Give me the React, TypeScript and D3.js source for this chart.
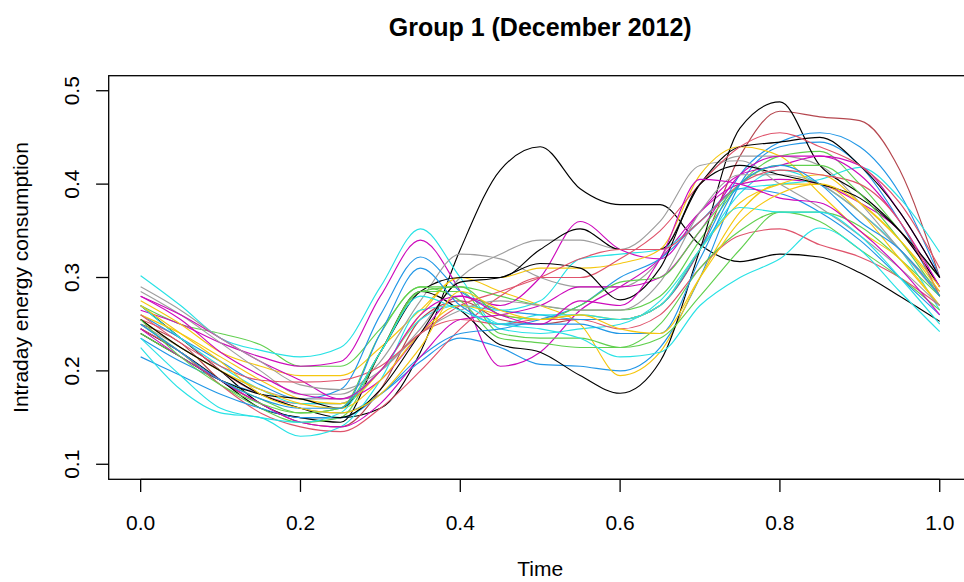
import React from "react";
import * as d3 from "d3";

const timeGrid = [0, 0.05, 0.1, 0.15, 0.2, 0.25, 0.3, 0.35, 0.4, 0.45, 0.5, 0.55, 0.6, 0.65, 0.7, 0.75, 0.8, 0.85, 0.9, 0.95, 1.0];

const day01 = [0.27, 0.235, 0.2, 0.165, 0.15, 0.15, 0.16, 0.22, 0.33, 0.415, 0.44, 0.395, 0.378, 0.378, 0.335, 0.317, 0.325, 0.322, 0.305, 0.28, 0.253];
const day02 = [0.25, 0.23, 0.19, 0.165, 0.145, 0.14, 0.18, 0.255, 0.275, 0.255, 0.25, 0.255, 0.255, 0.27, 0.33, 0.43, 0.478, 0.472, 0.468, 0.415, 0.3];
const day03 = [0.27, 0.25, 0.24, 0.228, 0.205, 0.205, 0.245, 0.29, 0.29, 0.28, 0.27, 0.265, 0.265, 0.28, 0.34, 0.4, 0.43, 0.435, 0.4, 0.35, 0.3];
const day04 = [0.235, 0.21, 0.19, 0.175, 0.16, 0.155, 0.175, 0.21, 0.235, 0.225, 0.207, 0.205, 0.2, 0.225, 0.3, 0.4, 0.44, 0.445, 0.42, 0.36, 0.28];
const day05 = [0.302, 0.27, 0.235, 0.222, 0.215, 0.225, 0.29, 0.352, 0.3, 0.245, 0.24, 0.245, 0.25, 0.275, 0.33, 0.39, 0.415, 0.4, 0.37, 0.33, 0.265];
const day06 = [0.265, 0.25, 0.23, 0.215, 0.205, 0.21, 0.28, 0.34, 0.285, 0.205, 0.22, 0.265, 0.29, 0.32, 0.37, 0.4, 0.405, 0.4, 0.38, 0.35, 0.29];
const day07 = [0.275, 0.25, 0.22, 0.205, 0.195, 0.195, 0.225, 0.265, 0.3, 0.285, 0.27, 0.25, 0.195, 0.22, 0.3, 0.37, 0.4, 0.4, 0.37, 0.32, 0.27];
const day08 = [0.285, 0.26, 0.23, 0.2, 0.175, 0.175, 0.21, 0.275, 0.325, 0.32, 0.3, 0.29, 0.29, 0.32, 0.4, 0.43, 0.43, 0.42, 0.38, 0.33, 0.28];
const day09 = [0.245, 0.22, 0.19, 0.16, 0.15, 0.145, 0.22, 0.285, 0.265, 0.228, 0.22, 0.195, 0.176, 0.21, 0.33, 0.46, 0.488, 0.42, 0.39, 0.35, 0.29];
const day10 = [0.255, 0.235, 0.2, 0.175, 0.165, 0.165, 0.2, 0.24, 0.255, 0.25, 0.255, 0.255, 0.245, 0.26, 0.31, 0.345, 0.352, 0.335, 0.322, 0.3, 0.27];
const day11 = [0.25, 0.22, 0.185, 0.16, 0.145, 0.15, 0.22, 0.285, 0.285, 0.24, 0.235, 0.235, 0.225, 0.235, 0.28, 0.33, 0.37, 0.37, 0.355, 0.32, 0.28];
const day12 = [0.26, 0.235, 0.21, 0.185, 0.17, 0.18, 0.26, 0.322, 0.285, 0.265, 0.26, 0.255, 0.255, 0.27, 0.33, 0.41, 0.445, 0.455, 0.44, 0.39, 0.3];
const day13 = [0.27, 0.235, 0.205, 0.18, 0.165, 0.165, 0.2, 0.255, 0.27, 0.265, 0.275, 0.32, 0.325, 0.33, 0.36, 0.395, 0.4, 0.405, 0.418, 0.385, 0.327];
const day14 = [0.28, 0.26, 0.235, 0.21, 0.19, 0.17, 0.19, 0.24, 0.28, 0.27, 0.3, 0.36, 0.33, 0.32, 0.37, 0.41, 0.42, 0.43, 0.42, 0.37, 0.3];
const day15 = [0.26, 0.24, 0.215, 0.19, 0.17, 0.165, 0.2, 0.26, 0.3, 0.3, 0.31, 0.31, 0.315, 0.33, 0.41, 0.44, 0.43, 0.39, 0.35, 0.32, 0.27];
const day16 = [0.25, 0.225, 0.2, 0.18, 0.17, 0.17, 0.2, 0.245, 0.3, 0.325, 0.34, 0.34, 0.33, 0.36, 0.42, 0.425, 0.4, 0.375, 0.345, 0.31, 0.27];
const day17 = [0.24, 0.215, 0.19, 0.175, 0.17, 0.16, 0.22, 0.285, 0.3, 0.3, 0.33, 0.352, 0.33, 0.33, 0.4, 0.44, 0.445, 0.45, 0.42, 0.37, 0.3];
const day18 = [0.245, 0.22, 0.185, 0.155, 0.14, 0.135, 0.16, 0.2, 0.245, 0.28, 0.3, 0.3, 0.32, 0.35, 0.4, 0.44, 0.455, 0.44, 0.42, 0.38, 0.31];
const day19 = [0.24, 0.215, 0.19, 0.17, 0.155, 0.16, 0.24, 0.29, 0.275, 0.235, 0.23, 0.225, 0.225, 0.25, 0.31, 0.35, 0.37, 0.36, 0.33, 0.3, 0.265];
const day20 = [0.215, 0.195, 0.175, 0.16, 0.15, 0.15, 0.175, 0.215, 0.24, 0.245, 0.255, 0.27, 0.3, 0.32, 0.36, 0.395, 0.39, 0.37, 0.34, 0.3, 0.26];
const day21 = [0.225, 0.18, 0.155, 0.15, 0.13, 0.14, 0.19, 0.265, 0.27, 0.25, 0.245, 0.235, 0.215, 0.22, 0.27, 0.3, 0.32, 0.353, 0.33, 0.285, 0.242];
const day22 = [0.245, 0.215, 0.19, 0.165, 0.145, 0.14, 0.165, 0.215, 0.255, 0.26, 0.27, 0.29, 0.29, 0.3, 0.35, 0.41, 0.43, 0.43, 0.41, 0.36, 0.29];
const day23 = [0.255, 0.225, 0.2, 0.18, 0.165, 0.16, 0.19, 0.24, 0.27, 0.26, 0.255, 0.26, 0.255, 0.27, 0.33, 0.38, 0.4, 0.41, 0.38, 0.34, 0.29];
const day24 = [0.29, 0.265, 0.235, 0.21, 0.185, 0.18, 0.2, 0.24, 0.265, 0.275, 0.27, 0.265, 0.265, 0.295, 0.37, 0.41, 0.41, 0.4, 0.37, 0.33, 0.285];
const day25 = [0.255, 0.225, 0.2, 0.175, 0.16, 0.15, 0.18, 0.24, 0.295, 0.3, 0.315, 0.31, 0.276, 0.31, 0.4, 0.42, 0.41, 0.4, 0.385, 0.35, 0.3];
const day26 = [0.26, 0.23, 0.205, 0.19, 0.188, 0.19, 0.205, 0.24, 0.27, 0.285, 0.3, 0.32, 0.33, 0.33, 0.36, 0.4, 0.415, 0.41, 0.4, 0.36, 0.28];
const day27 = [0.255, 0.215, 0.185, 0.165, 0.155, 0.16, 0.22, 0.285, 0.29, 0.26, 0.255, 0.27, 0.295, 0.3, 0.35, 0.4, 0.42, 0.42, 0.39, 0.34, 0.28];
const day28 = [0.25, 0.22, 0.19, 0.17, 0.16, 0.16, 0.24, 0.31, 0.27, 0.25, 0.25, 0.25, 0.24, 0.24, 0.32, 0.4, 0.42, 0.4, 0.36, 0.33, 0.28];
const day29 = [0.235, 0.195, 0.16, 0.15, 0.145, 0.155, 0.22, 0.28, 0.265, 0.25, 0.26, 0.26, 0.255, 0.27, 0.33, 0.375, 0.37, 0.37, 0.345, 0.3, 0.25];
const day30 = [0.28, 0.255, 0.22, 0.195, 0.175, 0.17, 0.2, 0.26, 0.28, 0.26, 0.25, 0.275, 0.27, 0.32, 0.405, 0.4, 0.385, 0.38, 0.35, 0.31, 0.26];
const day31 = [0.27, 0.24, 0.21, 0.175, 0.16, 0.155, 0.175, 0.225, 0.285, 0.265, 0.255, 0.26, 0.245, 0.24, 0.3, 0.36, 0.39, 0.4, 0.38, 0.34, 0.285];

const days = [day01, day02, day03, day04, day05, day06, day07, day08, day09, day10, day11, day12, day13, day14, day15, day16,
  day17, day18, day19, day20, day21, day22, day23, day24, day25, day26, day27, day28, day29, day30, day31];

const palette = ["#000000", "#DF536B", "#61D04F", "#2297E6", "#28E2E5", "#CD0BBC", "#F5C710", "#9E9E9E"];
const specialColors: Record<number, string> = { 1: "#B5474F" };

const xTicks = [0, 0.2, 0.4, 0.6, 0.8, 1.0];
const yTicks = [0.1, 0.2, 0.3, 0.4, 0.5];

const W = 964, H = 582;
const left = 108.7, right = 971.7, top = 75.7, bottom = 479.3;

export default function App() {
  const x = d3.scaleLinear().domain([-0.04, 1.04]).range([left, right]);
  const y = d3.scaleLinear().domain([0.0839, 0.5161]).range([bottom, top]);
  const line = d3.line<number>()
    .x((_, i) => x(timeGrid[i]))
    .y((v) => y(v))
    .curve(d3.curveMonotoneX);
  const font = "'Liberation Sans', Arial, Helvetica, sans-serif";
  return (
    <div style={{ position: "fixed", left: 0, top: 0, width: W, height: H, background: "#fff" }}>
      <svg width={W} height={H} style={{ display: "block" }} fontFamily={font}>
        <rect x={0} y={0} width={W} height={H} fill="#fff" />
        <defs>
          <clipPath id="plotclip">
            <rect x={left} y={top} width={right - left} height={bottom - top} />
          </clipPath>
        </defs>
        <g clipPath="url(#plotclip)">
          {days.map((d, i) => (
            <path key={i} d={line(d) || ""} fill="none" stroke={specialColors[i] || palette[i % 8]} strokeWidth={1.15} strokeLinejoin="round" />
          ))}
        </g>
        <rect x={left} y={top} width={right - left} height={bottom - top} fill="none" stroke="#000" strokeWidth={1.3} />
        <line x1={x(0)} x2={x(1)} y1={bottom} y2={bottom} stroke="#000" strokeWidth={1.3} />
        {xTicks.map((t) => (
          <g key={t}>
            <line x1={x(t)} x2={x(t)} y1={bottom} y2={bottom + 12.6} stroke="#000" strokeWidth={1.3} />
            <text x={x(t)} y={530} fontSize={21} textAnchor="middle">{t.toFixed(1)}</text>
          </g>
        ))}
        {yTicks.map((t) => (
          <g key={t}>
            <line x1={left} x2={left - 12.6} y1={y(t)} y2={y(t)} stroke="#000" strokeWidth={1.3} />
            <text transform={`translate(79,${y(t)}) rotate(-90)`} fontSize={21} textAnchor="middle">{t.toFixed(1)}</text>
          </g>
        ))}
        <text transform={`translate(28.3,${(top + bottom) / 2}) rotate(-90)`} fontSize={21} textAnchor="middle">Intraday energy consumption</text>
        <text x={(left + right) / 2} y={576} fontSize={21} textAnchor="middle">Time</text>
        <text x={(left + right) / 2} y={36} fontSize={25} fontWeight="bold" textAnchor="middle">Group 1 (December 2012)</text>
      </svg>
    </div>
  );
}
